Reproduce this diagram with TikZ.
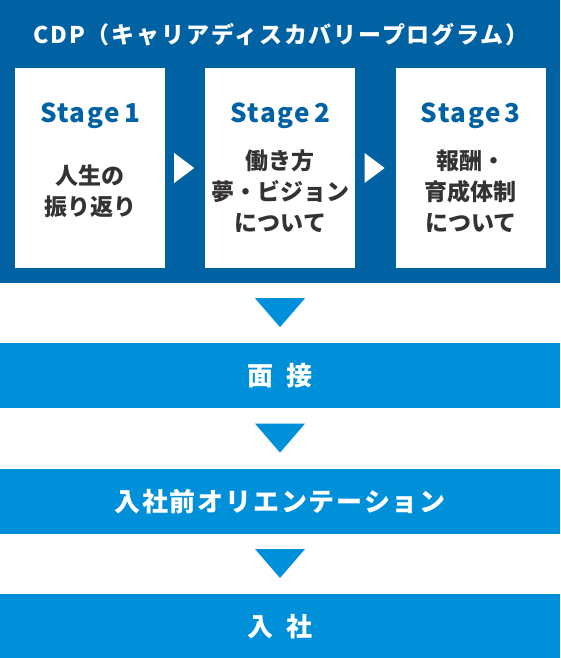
\documentclass[tikz,border=0pt]{standalone}
\usepackage{fontspec}
\usetikzlibrary{positioning, calc}
\newfontfamily\jpfont{Noto Sans CJK JP}
\definecolor{cnavy}{HTML}{0062A3}
\definecolor{csky}{HTML}{0090D9}
\definecolor{cink}{HTML}{333333}
\tikzset{
  every picture/.style={x=1pt, y=-1pt},
  panel/.style={fill=cnavy, minimum width=560pt, minimum height=283pt, inner sep=0pt},
  heading/.style={text=white, font=\jpfont\bfseries\fontsize{23}{23}\selectfont\addfontfeature{LetterSpace=8}},
  stagebox/.style={fill=white, minimum width=150pt, minimum height=200pt, inner sep=0pt},
  stagename/.style={text=cnavy, font=\jpfont\bfseries\fontsize{26}{26}\selectfont\addfontfeature{LetterSpace=6}},
  stagetext/.style={text=cink, align=center, font=\jpfont\bfseries\fontsize{23}{31}\selectfont},
  band/.style={fill=csky, text=white, minimum width=560pt, minimum height=65pt, inner sep=0pt,
    font=\jpfont\bfseries\fontsize{26}{26}\selectfont\addfontfeature{LetterSpace=7}},
  pointer/.style={fill=#1},
  pointer/.default=csky,
}

\begin{document}
\begin{tikzpicture}
  \useasboundingbox (0,0) rectangle (560,658);
  % CDP panel with the three stages
  \node[panel] (panel) at (280,141.5) {};
  \node[heading] (cdp) at (281,35) {CDP（キャリアディスカバリープログラム）};
  \node[stagebox] (s1) at (90,168) {};
  \node[stagebox, right=40pt of s1] (s2) {};
  \node[stagebox, right=40pt of s2] (s3) {};
  \node[stagename] (n1) at ($(s1.north)+(0,48)$) {Stage\,1};
  \node[stagename] (n2) at ($(s2.north)+(0,48)$) {Stage\,2};
  \node[stagename] (n3) at ($(s3.north)+(0,48)$) {Stage\,3};
  \node[stagetext] (b1) at ($(s1.center)+(0,23)$) {人生の\\振り返り};
  \node[stagetext] (b2) at ($(s2.center)+(0,23)$) {働き方\\夢・ビジョン\\について};
  \node[stagetext] (b3) at ($(s3.center)+(0,23)$) {報酬・\\育成体制\\について};
  \fill[pointer=white] ($(s1.east)+(9,-15)$) -- ++(20,15) -- ++(-20,15) -- cycle;
  \fill[pointer=white] ($(s2.east)+(9,-15)$) -- ++(20,15) -- ++(-20,15) -- cycle;
  % steps after the programme
  \node[band, below=60pt of panel] (interview) {面\hspace{13pt}接};
  \node[band, below=60pt of interview] (orient) {入社前オリエンテーション};
  \node[band, below=60pt of orient] (join) {入\hspace{13pt}社};
  \fill[pointer] ($(panel.south)+(-25,15)$) -- ++(50,0) -- ++(-25,29) -- cycle;
  \fill[pointer] ($(interview.south)+(-25,15)$) -- ++(50,0) -- ++(-25,29) -- cycle;
  \fill[pointer] ($(orient.south)+(-25,15)$) -- ++(50,0) -- ++(-25,29) -- cycle;
\end{tikzpicture}
\end{document}
